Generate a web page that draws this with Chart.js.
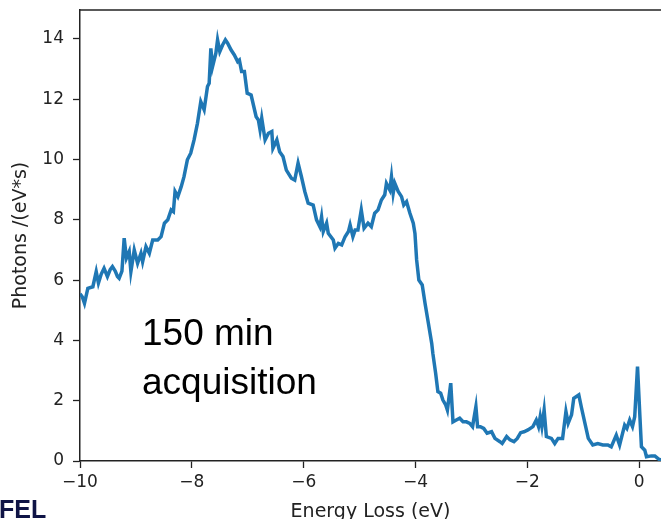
<!DOCTYPE html>
<html>
<head>
<meta charset="utf-8">
<script src="https://cdn.jsdelivr.net/npm/chart.js@4"></script>
<style>
    html, body { margin: 0; padding: 0; background: #fff; overflow: hidden; }
    #wrap { position: relative; width: 661px; height: 519px; overflow: hidden; }
    #chart { position: absolute; left: 0; top: 0; }
    .note { position: absolute; left: 142px; top: 308px; font: 37px "Liberation Sans", Arial, sans-serif; line-height: 49px; color: #000; }
    .logo { position: absolute; left: -1px; top: 497px; font: bold 25px "Liberation Sans", Arial, sans-serif; line-height: 24px; color: #0f1446; }
</style>
</head>
<body>
<div id="wrap">
    <canvas id="chart" width="661" height="530"></canvas>
    <div class="note">150 min<br>acquisition</div>
    <div class="logo">FEL</div>
</div>
<script>
// spectrum
const energy = [
    -10.00, -9.96, -9.92, -9.86, -9.77, -9.71, -9.67, -9.62, -9.57, -9.51,
    -9.46, -9.42, -9.37, -9.33, -9.30, -9.25, -9.21, -9.17, -9.12, -9.09,
    -9.03, -8.97, -8.91, -8.88, -8.82, -8.76, -8.70, -8.61, -8.55, -8.49,
    -8.43, -8.37, -8.33, -8.30, -8.25, -8.19, -8.14, -8.08, -8.02, -7.96,
    -7.90, -7.84, -7.78, -7.72, -7.69, -7.66, -7.63, -7.57, -7.54, -7.50,
    -7.45, -7.40, -7.36, -7.30, -7.24, -7.18, -7.15, -7.11, -7.06, -7.01,
    -6.94, -6.85, -6.81, -6.78, -6.75, -6.69, -6.63, -6.57, -6.55, -6.48,
    -6.43, -6.37, -6.31, -6.22, -6.16, -6.10, -6.04, -5.98, -5.92, -5.83,
    -5.77, -5.71, -5.68, -5.65, -5.59, -5.56, -5.47, -5.44, -5.38, -5.32,
    -5.26, -5.20, -5.17, -5.12, -5.08, -5.03, -4.97, -4.92, -4.85, -4.79,
    -4.73, -4.67, -4.61, -4.55, -4.52, -4.46, -4.43, -4.40, -4.37, -4.31,
    -4.25, -4.21, -4.16, -4.10, -4.04, -4.01, -3.98, -3.94, -3.88, -3.83,
    -3.77, -3.71, -3.69, -3.64, -3.60, -3.55, -3.51, -3.46, -3.43, -3.37,
    -3.33, -3.27, -3.21, -3.15, -3.09, -3.03, -2.98, -2.92, -2.89, -2.84,
    -2.78, -2.72, -2.64, -2.58, -2.49, -2.45, -2.37, -2.31, -2.24, -2.18,
    -2.12, -2.06, -1.99, -1.90, -1.84, -1.80, -1.77, -1.74, -1.70, -1.66,
    -1.57, -1.51, -1.45, -1.37, -1.31, -1.27, -1.21, -1.17, -1.08, -1.03,
    -0.97, -0.91, -0.83, -0.74, -0.65, -0.56, -0.50, -0.41, -0.35, -0.26,
    -0.22, -0.17, -0.12, -0.08, -0.03, 0.01, 0.04, 0.10, 0.13, 0.22,
    0.28, 0.37, 0.40
];
const photons = [
    5.55, 5.45, 5.23, 5.73, 5.78, 6.28, 5.90, 6.20, 6.39, 6.12,
    6.35, 6.45, 6.30, 6.12, 6.06, 6.30, 7.39, 6.73, 6.95, 6.28,
    7.00, 6.56, 6.89, 6.61, 7.11, 6.89, 7.33, 7.33, 7.44, 7.89,
    8.00, 8.33, 8.27, 8.94, 8.77, 9.10, 9.43, 9.99, 10.21, 10.65,
    11.20, 11.92, 11.65, 12.42, 12.53, 13.69, 13.08, 13.53, 13.97, 13.58,
    13.80, 13.97, 13.86, 13.64, 13.47, 13.25, 13.30, 12.92, 12.92, 12.20,
    12.14, 11.42, 11.31, 10.98, 11.37, 10.65, 10.87, 10.93, 10.37, 10.65,
    10.26, 10.10, 9.65, 9.38, 9.32, 9.88, 9.43, 8.94, 8.55, 8.49,
    8.00, 7.77, 8.10, 7.61, 7.89, 7.55, 7.33, 7.06, 7.22, 7.17,
    7.44, 7.61, 7.83, 7.44, 7.66, 7.66, 8.33, 7.72, 7.89, 7.77,
    8.22, 8.33, 8.66, 8.83, 9.21, 8.99, 9.43, 8.88, 9.21, 8.94,
    8.77, 8.49, 8.60, 8.22, 7.89, 7.55, 6.67, 6.00, 5.84, 5.23,
    4.57, 3.90, 3.57, 2.91, 2.30, 2.25, 2.02, 1.86, 1.69, 2.58,
    1.30, 1.36, 1.42, 1.30, 1.30, 1.25, 1.14, 1.80, 1.14, 1.14,
    1.08, 0.92, 0.97, 0.75, 0.64, 0.58, 0.81, 0.70, 0.64, 0.75,
    0.94, 0.97, 1.03, 1.14, 1.36, 1.14, 1.47, 1.14, 1.69, 0.81,
    0.75, 0.58, 0.75, 0.75, 1.64, 1.25, 1.53, 2.08, 2.19, 1.75,
    1.25, 0.75, 0.53, 0.58, 0.53, 0.53, 0.47, 0.86, 0.53, 1.19,
    1.08, 1.36, 1.14, 1.47, 3.13, 1.58, 0.47, 0.36, 0.14, 0.17,
    0.17, 0.03, 0.05
];
const xTicks = [-10, -8, -6, -4, -2, 0];
const yTicks = [0, 2, 4, 6, 8, 10, 12, 14];

const tickFont = { family: 'DejaVu Sans', size: 17 };
const titleFont = { family: 'DejaVu Sans', size: 19 };

function minusSign(v) {
    return v < 0 ? '\u2212' + Math.abs(v) : String(v);
}

// top spine, matplotlib style (right spine is cropped away)
const topSpine = {
    id: 'topSpine',
    afterDraw(chart) {
        const { ctx, chartArea: a } = chart;
        ctx.save();
        ctx.strokeStyle = '#222';
        ctx.lineWidth = 1.5;
        ctx.beginPath();
        ctx.moveTo(a.left, a.top);
        ctx.lineTo(a.right + 2, a.top);
        ctx.stroke();
        ctx.restore();
    }
};

const ctx = document.getElementById('chart').getContext('2d');
const chart = new Chart(ctx, {
    type: 'line',
    data: {
        datasets: [{
            data: energy.map((e, i) => ({ x: e, y: photons[i] })),
            borderColor: '#1f77b4',
            borderWidth: 3.5,
            pointRadius: 0,
            tension: 0,
            fill: false
        }]
    },
    options: {
        responsive: false,
        animation: false,
        devicePixelRatio: 1,
        layout: { padding: { top: 10, right: 0, left: 0, bottom: 0 } },
        plugins: { legend: { display: false }, tooltip: { enabled: false } },
        scales: {
            x: {
                type: 'linear',
                min: -10,
                max: 0.39,
                afterBuildTicks: s => { s.ticks = xTicks.map(v => ({ value: v })); },
                afterFit: s => { s.height = 69; s.paddingLeft = 0; s.paddingRight = 0; },
                grid: { drawOnChartArea: false, drawTicks: true, tickLength: 7, tickColor: '#222', tickWidth: 1.3 },
                border: { display: true, color: '#222', width: 1.5 },
                ticks: { font: tickFont, color: '#222', padding: 4, maxRotation: 0, callback: v => minusSign(v) },
                title: { display: true, text: 'Energy Loss (eV)', font: titleFont, color: '#222', padding: { top: 0, bottom: 7 } }
            },
            y: {
                type: 'linear',
                min: 0,
                max: 14.96,
                afterBuildTicks: s => { s.ticks = yTicks.map(v => ({ value: v })); },
                afterFit: s => { s.width = 80; s.paddingTop = 0; s.paddingBottom = 0; },
                grid: { drawOnChartArea: false, drawTicks: true, tickLength: 7, tickColor: '#222', tickWidth: 1.3 },
                border: { display: true, color: '#222', width: 1.5 },
                ticks: { font: tickFont, color: '#222', padding: 9, callback: v => minusSign(v) },
                title: { display: true, text: 'Photons /(eV*s)', font: titleFont, color: '#222', padding: { top: 10, bottom: 0 } }
            }
        }
    },
    plugins: [topSpine]
});
</script>
</body>
</html>
